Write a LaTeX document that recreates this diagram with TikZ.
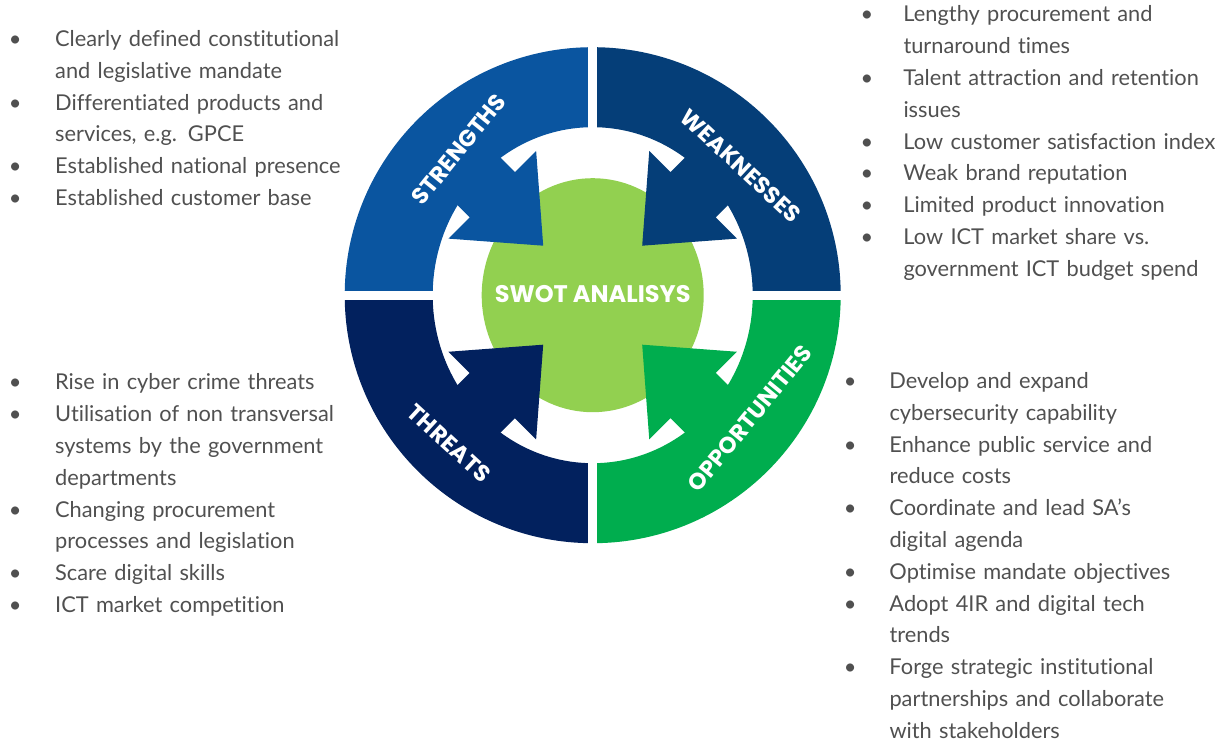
\documentclass[tikz,border=0pt]{standalone}
\usepackage{fontspec}
\setmainfont{Lato}[Ligatures=NoCommon]
\newfontfamily\labelfont{Poppins}
\usetikzlibrary{calc,positioning,shapes.geometric}

\definecolor{strengthblue}{RGB}{10,85,160}
\definecolor{weakblue}{RGB}{5,62,120}
\definecolor{threatblue}{RGB}{2,33,94}
\definecolor{opportgreen}{RGB}{0,173,78}
\definecolor{swotgreen}{RGB}{146,208,80}
\definecolor{bodygrey}{RGB}{80,80,80}

\newlength\bulletw
\newcommand{\swotitem}[1]{\hangindent=\bulletw\hangafter=1\noindent\makebox[0pt]{\textbullet}\hspace*{\bulletw}#1\par}

\begin{document}
\begin{tikzpicture}[x=1pt, y=1pt,
		every node/.style={inner sep=0pt},
		quadlabel/.style={text=white, font=\labelfont\bfseries\fontsize{23}{23}\selectfont},
		swotlist/.style={anchor=base west, text width=400pt, align=left, text=bodygrey,
			font=\fontsize{21.8}{31.8}\selectfont,
			execute at begin node={\setlength{\parskip}{0pt}\setlength{\bulletw}{#1}}},
		gapline/.style={white, line width=9}
	]
	\useasboundingbox (0,0) rectangle (1221,747);
	\coordinate (C) at (592.7,451.8);
	
	\foreach \a/\col in {90/strengthblue, 0/weakblue, 180/threatblue, 270/opportgreen}
		\fill[\col] ($(C)+(\a:248)$) arc[start angle=\a, end angle=\a+90, radius=248]
			-- ($(C)+({160*cos(\a+90)},{168*sin(\a+90)})$)
			arc[start angle=\a+90, end angle=\a, x radius=160, y radius=168] -- cycle;
	\foreach \a in {0,90,180,270}
		\draw[gapline] ($(C)+(\a:150)$) -- ($(C)+(\a:252)$);
	
	\node[ellipse, fill=swotgreen, minimum width=222, minimum height=234] (swotdisc) at (C) {};
	\node[text=white, font=\labelfont\bfseries\fontsize{24}{24}\selectfont] (swot)
		at ([yshift=1]swotdisc.center) {SWOT ANALISYS};
	
	\foreach \t/\col in {135/strengthblue, 45/weakblue, 225/threatblue, 315/opportgreen}
		\fill[\col, shift={(C)}, rotate=\t] (180,32) -- (142,32) -- (142,62) -- (70,0)
			-- (142,-62) -- (142,-32) -- (180,-32) -- cycle;
	
	\node[quadlabel, rotate=51] (strengths) at (458.7,597.5) {STRENGTHS};
	\node[quadlabel, rotate=-43] (weaknesses) at (740.8,581.2) {WEAKNESSES};
	\node[quadlabel, rotate=-42.6] (threats) at (449.2,303.7) {THREATS};
	\node[quadlabel, rotate=50.6] (opportunities) at (750,328.7) {OPPORTUNITIES};
	
	\node[swotlist=40pt] (strengthslist) at (15,700.5) {%
		\swotitem{Clearly defined constitutional\newline and legislative mandate}
		\swotitem{Differentiated products and\newline services, e.g. GPCE}
		\swotitem{Established national presence}
		\swotitem{Established customer base}};
	\node[swotlist=36.6pt] (weaknesseslist) at (866.7,725) {%
		\swotitem{Lengthy procurement and\newline turnaround times}
		\swotitem{Talent attraction and retention\newline issues}
		\swotitem{Low customer satisfaction index}
		\swotitem{Weak brand reputation}
		\swotitem{Limited product innovation}
		\swotitem{Low ICT market share vs.\newline government ICT budget spend}};
	\node[swotlist=40pt] (threatslist) at (15,357) {%
		\swotitem{Rise in cyber crime threats}
		\swotitem{Utilisation of non transversal\newline systems by the government\newline departments}
		\swotitem{Changing procurement\newline processes and legislation}
		\swotitem{Scare digital skills}
		\swotitem{ICT market competition}};
	\node[swotlist=39.3pt] (opportunitieslist) at (850,358.5) {%
		\swotitem{Develop and expand\newline cybersecurity capability}
		\swotitem{Enhance public service and\newline reduce costs}
		\swotitem{Coordinate and lead SA’s\newline digital agenda}
		\swotitem{Optimise mandate objectives}
		\swotitem{Adopt 4IR and digital tech\newline trends}
		\swotitem{Forge strategic institutional\newline partnerships and collaborate\newline with stakeholders}};
\end{tikzpicture}
\end{document}
